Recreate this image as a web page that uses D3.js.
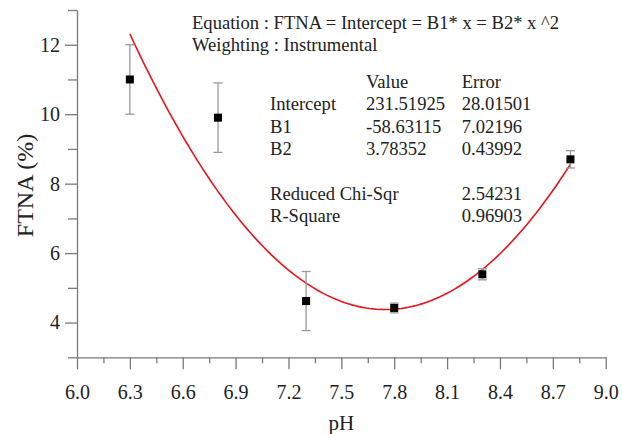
<!DOCTYPE html>
<html>
<head>
<meta charset="utf-8">
<script src="https://cdn.jsdelivr.net/npm/d3@7"></script>
<style>
  body { margin: 0; background: #fff; }
  text { font-family: "Liberation Serif", "Times New Roman", serif; fill: #222; }
</style>
</head>
<body>
<div class="diagram"></div>
<script>
// measured points with error bars
var phValues = [6.3, 6.8, 7.3, 7.8, 8.3, 8.8];
var ftnaValues = [11.0, 9.9, 4.62, 4.42, 5.39, 8.70];
var ftnaErrors = [1.0, 1.0, 0.85, 0.14, 0.16, 0.25];

// quadratic fit: Intercept, B1, B2
var fitCoefs = [231.51925, -58.63115, 3.78352];
var fitRange = [6.3, 8.8];

var xMajorTicks = [6.0, 6.3, 6.6, 6.9, 7.2, 7.5, 7.8, 8.1, 8.4, 8.7, 9.0];
var xMinorTicks = [6.15, 6.45, 6.75, 7.05, 7.35, 7.65, 7.95, 8.25, 8.55, 8.85];
var yMajorTicks = [4, 6, 8, 10, 12];
var yMinorTicks = [3, 5, 7, 9, 11, 13];

var tableHead = ["", "Value", "Error"];
var tableRows = [
  ["Intercept", "231.51925", "28.01501"],
  ["B1", "-58.63115", "7.02196"],
  ["B2", "3.78352", "0.43992"]
];
var statRows = [
  ["Reduced Chi-Sqr", "2.54231"],
  ["R-Square", "0.96903"]
];

var width = 622, height = 434, margin = {top: 10, right: 16.3, bottom: 76.7, left: 77};
var w = width - margin.left - margin.right, h = height - margin.top - margin.bottom;

var svg = d3.select('.diagram')
  .append('svg')
  .attr('width', width)
  .attr('height', height)
  .append('g')
  .attr('transform', 'translate(' + margin.left + ',' + margin.top + ')');

var x = d3.scaleLinear().domain([6, 9]).range([0, w]),
    y = d3.scaleLinear().domain([3, 13]).range([h, 0]);

var axisColor = '#7a7a7a';

// x axis
svg.append('g')
  .attr('transform', 'translate(0,' + h + ')')
  .call(d3.axisBottom(x).tickValues(xMajorTicks).tickSize(12).tickPadding(16)
    .tickFormat(d3.format('.1f')).tickSizeOuter(0));
svg.append('g')
  .attr('transform', 'translate(0,' + h + ')')
  .call(d3.axisBottom(x).tickValues(xMinorTicks).tickSize(6).tickFormat('').tickSizeOuter(0))
  .select('.domain').remove();

// y axis
svg.append('g')
  .call(d3.axisLeft(y).tickValues(yMajorTicks).tickSize(12).tickPadding(5).tickSizeOuter(0));
svg.append('g')
  .call(d3.axisLeft(y).tickValues(yMinorTicks).tickSize(9).tickFormat('').tickSizeOuter(0))
  .select('.domain').remove();

svg.selectAll('.domain, .tick line').attr('stroke', axisColor).attr('stroke-width', 1.3);
svg.selectAll('.tick text').attr('font-size', 20).attr('fill', '#222');

// axis titles
svg.append('text')
  .attr('x', x(7.5))
  .attr('y', h + 72.5)
  .attr('text-anchor', 'middle')
  .attr('font-size', 21)
  .text('pH');

svg.append('text')
  .attr('transform', 'translate(' + (-44) + ',' + (185.5 - margin.top) + ') rotate(-90)')
  .attr('text-anchor', 'middle')
  .attr('font-size', 24)
  .text('FTNA (%)');

// fit curve
var fitX = d3.range(fitRange[0], fitRange[1] + 0.001, 0.02);
var line = d3.line()
  .x(function(d) { return x(d); })
  .y(function(d) { return y(fitCoefs[0] + fitCoefs[1] * d + fitCoefs[2] * d * d); });

svg.append('path')
  .datum(fitX)
  .attr('d', line)
  .attr('fill', 'none')
  .attr('stroke', '#e8141c')
  .attr('stroke-width', 1.6);

// error bars + markers
var pts = phValues.map(function(p, i) { return {x: p, y: ftnaValues[i], e: ftnaErrors[i]}; });
var errColor = '#999';
var bars = svg.selectAll('.err').data(pts).enter().append('g').attr('class', 'err');
bars.append('line')
  .attr('x1', function(d) { return x(d.x); }).attr('x2', function(d) { return x(d.x); })
  .attr('y1', function(d) { return y(d.y - d.e); }).attr('y2', function(d) { return y(d.y + d.e); })
  .attr('stroke', errColor).attr('stroke-width', 1.3);
[-1, 1].forEach(function(s) {
  bars.append('line')
    .attr('x1', function(d) { return x(d.x) - 4.5; }).attr('x2', function(d) { return x(d.x) + 4.5; })
    .attr('y1', function(d) { return y(d.y + s * d.e); }).attr('y2', function(d) { return y(d.y + s * d.e); })
    .attr('stroke', errColor).attr('stroke-width', 1.3);
});
bars.append('rect')
  .attr('x', function(d) { return x(d.x) - 4; })
  .attr('y', function(d) { return y(d.y) - 4; })
  .attr('width', 8).attr('height', 8)
  .attr('fill', '#000');

// annotation block
var ann = d3.select('svg').append('g').attr('font-size', 18.6);
ann.append('text').attr('x', 192).attr('y', 29).text('Equation : FTNA = Intercept = B1* x = B2* x ^2');
ann.append('text').attr('x', 192).attr('y', 51).text('Weighting : Instrumental');

var colX = [270, 366, 461.7];
ann.selectAll('.hd').data(tableHead).enter().append('text')
  .attr('x', function(d, i) { return colX[i]; }).attr('y', 88).text(function(d) { return d; });
tableRows.forEach(function(r, j) {
  r.forEach(function(c, i) {
    ann.append('text').attr('x', colX[i]).attr('y', 110 + j * 22.5).text(c);
  });
});
statRows.forEach(function(r, j) {
  ann.append('text').attr('x', colX[0]).attr('y', 200 + j * 22).text(r[0]);
  ann.append('text').attr('x', colX[2]).attr('y', 200 + j * 22).text(r[1]);
});
</script>
</body>
</html>
